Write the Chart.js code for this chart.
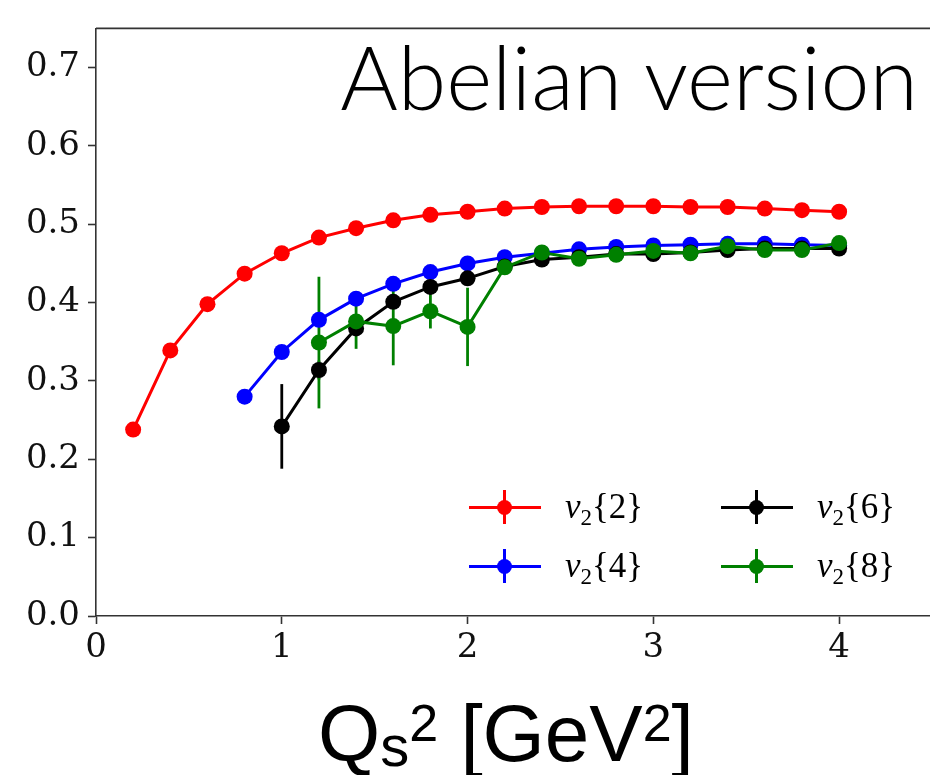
<!DOCTYPE html>
<html>
<head>
<meta charset="utf-8">
<script src="https://cdn.jsdelivr.net/npm/chart.js@4.4.1/dist/chart.umd.min.js"></script>
<style>
  body { margin: 0; overflow: hidden; background: #fff; }
  #wrap { position: relative; width: 940px; height: 775px; }
  #title { position: absolute; right: 22px; top: 24px; font-family: Lato, sans-serif; font-weight: 300; font-size: 88px; line-height: 104px; color: #000; white-space: nowrap; }
  #xlabel { position: absolute; left: 318px; top: 694px; font-family: "Liberation Sans", Arial, sans-serif; font-size: 80px; line-height: 80px; color: #000; white-space: nowrap; }
  #xlabel .sub { font-size: 58px; position: relative; top: 5px; }
  #xlabel .sup { font-size: 52px; position: relative; top: -20px; }
  .leg { position: absolute; height: 40px; white-space: nowrap; }
  .leg .sym { position: absolute; left: 0; top: 0; width: 72px; height: 40px; }
  .leg .h { position: absolute; left: 0; top: 19px; width: 72px; height: 3px; }
  .leg .v { position: absolute; left: 34px; top: 3px; width: 3px; height: 34px; }
  .leg .dot { position: absolute; left: 28px; top: 13px; width: 15px; height: 15px; border-radius: 50%; }
  .leg .txt { position: absolute; left: 96px; top: -2px; font-family: "Liberation Serif", serif; font-size: 35px; line-height: 44px; color: #000; }
  .leg .txt i { font-style: italic; }
  .leg .txt sub { font-size: 23px; vertical-align: baseline; position: relative; top: 7px; }
</style>
</head>
<body>
<div id="wrap">
  <canvas id="chart" width="940" height="775"></canvas>
  <div id="title">Abelian version</div>
  <div id="xlabel">Q<span class="sub">s</span><span class="sup">2</span> [GeV<span class="sup">2</span>]</div>
  <div id="legend"></div>
</div>
<script>
// v2{2}
const xV2 = [0.2, 0.4, 0.6, 0.8, 1.0, 1.2, 1.4, 1.6, 1.8, 2.0, 2.2, 2.4, 2.6, 2.8, 3.0, 3.2, 3.4, 3.6, 3.8, 4.0];
const yV2 = [0.238, 0.339, 0.398, 0.437, 0.463, 0.483, 0.495, 0.505, 0.512, 0.516, 0.520, 0.522, 0.523, 0.523, 0.523, 0.522, 0.522, 0.520, 0.518, 0.516];
const eV2 = [0, 0, 0, 0, 0, 0, 0, 0, 0, 0, 0, 0, 0, 0, 0, 0, 0, 0, 0, 0];

// v2{4}
const xV4 = [0.8, 1.0, 1.2, 1.4, 1.6, 1.8, 2.0, 2.2, 2.4, 2.6, 2.8, 3.0, 3.2, 3.4, 3.6, 3.8, 4.0];
const yV4 = [0.280, 0.337, 0.378, 0.405, 0.424, 0.439, 0.450, 0.458, 0.463, 0.468, 0.471, 0.473, 0.474, 0.475, 0.475, 0.474, 0.473];
const eV4 = [0, 0, 0, 0, 0, 0, 0, 0, 0, 0, 0, 0, 0, 0, 0, 0, 0];

// v2{6}
const xV6 = [1.0, 1.2, 1.4, 1.6, 1.8, 2.0, 2.2, 2.4, 2.6, 2.8, 3.0, 3.2, 3.4, 3.6, 3.8, 4.0];
const yV6 = [0.242, 0.314, 0.367, 0.401, 0.420, 0.431, 0.446, 0.455, 0.458, 0.462, 0.462, 0.464, 0.467, 0.469, 0.469, 0.469];
const eV6 = [0.054, 0.012, 0, 0, 0, 0, 0, 0, 0, 0, 0, 0, 0, 0, 0, 0];

// v2{8}
const xV8 = [1.2, 1.4, 1.6, 1.8, 2.0, 2.2, 2.4, 2.6, 2.8, 3.0, 3.2, 3.4, 3.6, 3.8, 4.0];
const yV8 = [0.349, 0.376, 0.370, 0.389, 0.369, 0.445, 0.464, 0.456, 0.461, 0.466, 0.463, 0.472, 0.467, 0.467, 0.476];
const eV8 = [0.084, 0.035, 0.05, 0.022, 0.05, 0, 0, 0, 0, 0, 0, 0, 0, 0, 0];

const xTicks = [0, 1, 2, 3, 4];
const yTicks = [0.0, 0.1, 0.2, 0.3, 0.4, 0.5, 0.6, 0.7];

const seriesNames = ['2', '4', '6', '8'];
const colors = ['#ff0000', '#0000ff', '#000000', '#008000'];
const allX = [xV2, xV4, xV6, xV8];
const allY = [yV2, yV4, yV6, yV8];
const allE = [eV2, eV4, eV6, eV8];

const axisColor = '#333333';
const tickFont = { family: 'DejaVu Serif', size: 34 };

const datasets = allX.map((xs, i) => ({
    label: 'v2{' + seriesNames[i] + '}',
    data: xs.map((x, j) => ({ x: x, y: allY[i][j] })),
    errors: allE[i],
    borderColor: colors[i],
    backgroundColor: colors[i],
    pointBackgroundColor: colors[i],
    pointBorderWidth: 0,
    pointRadius: 8,
    borderWidth: 3,
    tension: 0,
    order: 4 - i
}));

// error bars, drawn under the lines and markers
const errorBars = {
    id: 'errorBars',
    beforeDatasetsDraw(chart) {
        const ctx = chart.ctx;
        const xs = chart.scales.x, ys = chart.scales.y;
        ctx.save();
        chart.data.datasets.forEach(ds => {
            ctx.strokeStyle = ds.borderColor;
            ctx.lineWidth = 2.8;
            ds.data.forEach((p, j) => {
                const e = ds.errors[j];
                if (!e) return;
                const px = xs.getPixelForValue(p.x);
                ctx.beginPath();
                ctx.moveTo(px, ys.getPixelForValue(p.y - e));
                ctx.lineTo(px, ys.getPixelForValue(p.y + e));
                ctx.stroke();
            });
        });
        ctx.restore();
    }
};

// top and right spines
const frame = {
    id: 'frame',
    afterDraw(chart) {
        const a = chart.chartArea, ctx = chart.ctx;
        ctx.save();
        ctx.strokeStyle = axisColor;
        ctx.lineWidth = 1.6;
        ctx.beginPath();
        ctx.moveTo(a.left, a.top);
        ctx.lineTo(a.right, a.top);
        ctx.lineTo(a.right, a.bottom);
        ctx.stroke();
        ctx.restore();
    }
};

new Chart(document.getElementById('chart'), {
    type: 'line',
    data: { datasets: datasets },
    options: {
        responsive: false,
        animation: false,
        devicePixelRatio: 1,
        layout: { padding: { top: 11, right: 4, left: 0, bottom: 0 } },
        plugins: { legend: { display: false }, tooltip: { enabled: false } },
        scales: {
            x: {
                type: 'linear',
                min: 0,
                max: 4.5,
                afterFit: s => { s.height = 159; },
                afterBuildTicks: s => { s.ticks = xTicks.map(v => ({ value: v })); },
                border: { color: axisColor, width: 1.6 },
                grid: { drawOnChartArea: false, tickLength: 8, tickColor: axisColor, tickWidth: 1.6 },
                ticks: { color: '#111', font: tickFont, padding: 4, maxRotation: 0, callback: v => String(v) }
            },
            y: {
                type: 'linear',
                min: 0,
                max: 0.75,
                afterFit: s => { s.width = 96; },
                afterBuildTicks: s => { s.ticks = yTicks.map(v => ({ value: v })); },
                border: { color: axisColor, width: 1.6 },
                grid: { drawOnChartArea: false, tickLength: 8, tickColor: axisColor, tickWidth: 1.6 },
                ticks: { color: '#111', font: tickFont, padding: 8, callback: v => v.toFixed(1) }
            }
        }
    },
    plugins: [errorBars, frame]
});

// legend, two columns
const legPos = [[469, 487], [469, 546], [721, 487], [721, 546]];
const legend = document.getElementById('legend');
seriesNames.forEach((n, i) => {
    const d = document.createElement('div');
    d.className = 'leg';
    d.style.left = legPos[i][0] + 'px';
    d.style.top = legPos[i][1] + 'px';
    d.innerHTML = '<div class="sym"><div class="h" style="background:' + colors[i] + '"></div>' +
        '<div class="v" style="background:' + colors[i] + '"></div>' +
        '<div class="dot" style="background:' + colors[i] + '"></div></div>' +
        '<div class="txt"><i>v</i><sub>2</sub>{' + n + '}</div>';
    legend.appendChild(d);
});
</script>
</body>
</html>
